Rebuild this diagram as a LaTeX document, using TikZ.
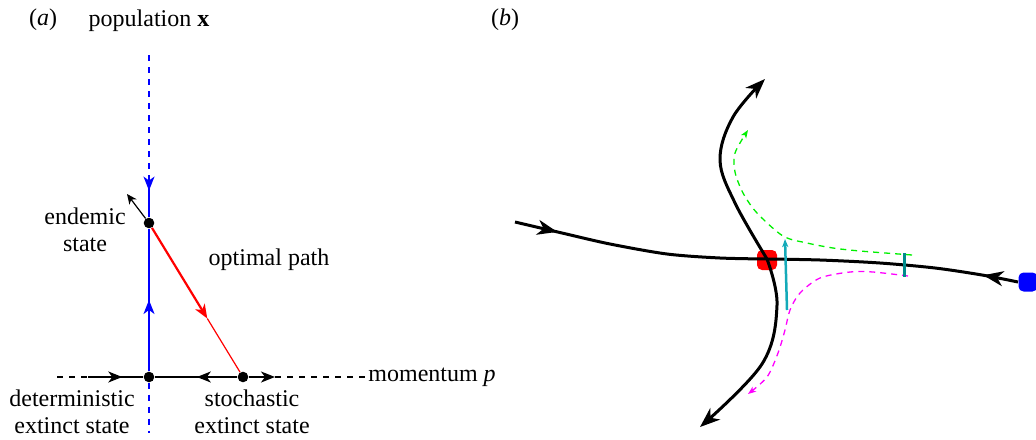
\documentclass[tikz,border=0pt]{standalone}
\usepackage{fontspec}
\setmainfont{Liberation Serif}
\usetikzlibrary{arrows.meta, positioning, calc, decorations.markings}
\definecolor{pathred}{RGB}{255,0,0}
\definecolor{popblue}{RGB}{0,0,255}
\definecolor{flowgreen}{RGB}{0,240,0}
\definecolor{flowmagenta}{RGB}{255,0,255}
\definecolor{gapcyan}{RGB}{20,170,185}
\definecolor{gapteal}{RGB}{0,140,140}

\begin{document}
\begin{tikzpicture}[
    x=0.5pt, y=-0.5pt,
    font=\fontsize{12}{13.5}\selectfont,
    tip/.style={-{Stealth[length=7pt, width=5.5pt, inset=2pt]}},
    bigtip/.style={-{Stealth[length=10pt, width=7.5pt, inset=3pt]}},
    smalltip/.style={-{Stealth[length=4pt, width=3pt, inset=1pt]}},
    midarr/.style={postaction={decorate}, decoration={markings,
        mark=at position #1 with {\arrow{Stealth[length=7pt, width=5.5pt, inset=2pt]}}}},
    bigmid/.style={postaction={decorate}, decoration={markings,
        mark=at position #1 with {\arrow{Stealth[length=10pt, width=7.5pt, inset=3pt]}}}},
    dot/.style={circle, fill=black, inner sep=0pt, minimum size=5.3pt},
    axisline/.style={black, line width=0.8pt},
    popline/.style={popblue, line width=0.8pt},
    orbit/.style={black, line width=1.5pt},
    flow/.style={dashed, dash pattern=on 3pt off 2.5pt, line width=0.65pt},
    label/.style={align=center, inner sep=0pt},
  ]
    \useasboundingbox (0,0) rectangle (1036,439);

    % ---------- (a) ----------
    \node[label] (tagA) at (43,20) {(\textit{a})};
    \node[label] (popx) at (149,21) {population $\mathbf{x}$};

    \node[dot] (endemic) at (149,223) {};
    \node[dot] (det)     at (149,377) {};
    \node[dot] (stoch)   at (243,377) {};

    \coordinate (popTop)  at (149,55);
    \coordinate (popMid)  at (149,178);
    \coordinate (popBot)  at (149,433);
    \coordinate (momL)    at (57,377);
    \coordinate (momLs)   at (88,377);
    \coordinate (momRs)   at (275,377);
    \coordinate (momR)    at (365,377);
    \coordinate (unstab)  at (127,194);
    \coordinate (redmid)  at ($(endemic)!0.62!(stoch)$);

    \draw[popline, dashed] (popTop) -- (popMid);
    \draw[popline, midarr=0.32] (popMid) -- (endemic);
    \draw[popline, midarr=0.5] (det) -- (endemic);
    \draw[popline, dashed] (det) -- (popBot);

    \draw[pathred, line width=1.1pt, tip] (endemic) -- (redmid);
    \draw[pathred, line width=0.6pt] (redmid) -- (stoch);
    \draw[black, line width=0.6pt, -{Stealth[length=5pt, width=4.5pt, inset=1.5pt]}] (endemic) -- (unstab);

    \draw[axisline, dashed] (momL) -- (momLs);
    \draw[axisline, midarr=0.62] (momLs) -- (det);
    \draw[axisline, midarr=0.49] (stoch) -- (det);
    \draw[axisline, tip] (stoch) -- (momRs);
    \draw[axisline, dashed] (momRs) -- (momR);

    \node[label, anchor=west] (mom) at (368,377) {momentum \textit{p}};
    \node[label] (endlab)  at (85,230) {endemic\\state};
    \node[label] (optlab)  at (269,260) {optimal path};
    \node[label] (detlab)  at (72,412) {deterministic\\extinct state};
    \node[label] (stolab)  at (252,412) {stochastic\\extinct state};

    % ---------- (b) ----------
    \node[label] (tagB) at (505,20) {(\textit{b})};

    \node[fill=pathred, rounded corners=2.5pt, minimum size=10pt, inner sep=0pt] (saddle) at (767,260) {};
    \node[fill=popblue, rounded corners=2.5pt, minimum size=9.5pt, inner sep=0pt] (start) at (1028,282) {};
    \coordinate (startW) at (1018,282);

    % stable manifold
    \draw[orbit, bigmid=0.17]
      plot[smooth] coordinates {(515,222) (562,233) (610,244) (667,254) (720,258) (767,259)};
    \draw[orbit, bigmid=0.14]
      plot[smooth] coordinates {(1018,282) (982,275) (935,268) (880,263) (820,260) (767,259)};
    % unstable manifold
    \draw[orbit, bigtip]
      plot[smooth, tension=0.6] coordinates {(767,259) (735,203) (720,160) (733,117) (765,79)};
    \draw[orbit, bigtip]
      plot[smooth, tension=0.6] coordinates {(767,259) (777,305) (762,364) (700,427)};

    % nearby trajectories
    \draw[flow, flowgreen, smalltip]
      plot[smooth] coordinates {(912,255) (860,251) (833,248) (807,243) (783,236) (757,213) (743,193) (735,172) (735,153) (748,130)};
    \draw[flow, flowmagenta, smalltip]
      plot[smooth] coordinates {(908,276) (873,272) (850,272) (820,278) (800,293) (790,310) (785,330) (778,353) (767,377) (748,394)};

    % gaps
    \coordinate (gapLo) at (787,310);
    \coordinate (gapHi) at (785,239);
    \draw[gapcyan, line width=1.25pt, smalltip] (gapLo) -- (gapHi);
    \coordinate (barHi) at (904,253);
    \coordinate (barLo) at (904,277);
    \draw[gapteal, line width=1.5pt] (barHi) -- (barLo);
\end{tikzpicture}
\end{document}
